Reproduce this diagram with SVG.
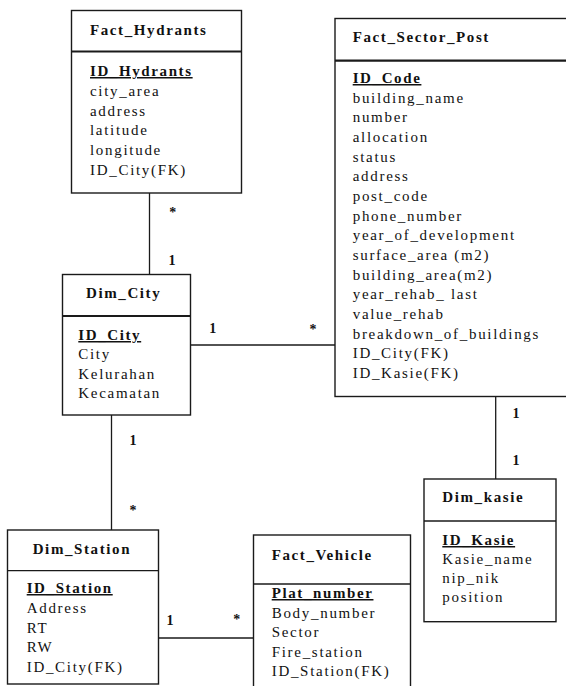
<svg xmlns="http://www.w3.org/2000/svg" width="566" height="686" viewBox="0 0 566 686">
<style>
  .box { fill: #ffffff; stroke: #1a1a1a; stroke-width: 1.4; }
  .div2 { stroke: #1a1a1a; stroke-width: 2.2; }
  .div1 { stroke: #1a1a1a; stroke-width: 1.3; }
  .conn { stroke: #1a1a1a; stroke-width: 1.3; fill: none; }
  .t { font-family: 'Liberation Serif', 'DejaVu Serif', serif; fill: #111111; }
  .title { font-size: 15px; font-weight: bold; letter-spacing: 1.6px; }
  .attr { font-size: 15px; letter-spacing: 1.7px; }
  .key { font-size: 15px; font-weight: bold; letter-spacing: 1.6px; text-decoration: underline; }
  .lbl { font-size: 14px; font-weight: bold; text-anchor: middle; }
</style>
<rect width="566" height="686" fill="#ffffff"/>

<g id="connectors">
  <line class="conn" x1="149.5" y1="193" x2="149.5" y2="274.5"/>
  <line class="conn" x1="190.5" y1="345" x2="335" y2="345"/>
  <line class="conn" x1="111.5" y1="415" x2="111.5" y2="530"/>
  <line class="conn" x1="158.5" y1="638" x2="253.5" y2="638"/>
  <line class="conn" x1="495.7" y1="396.5" x2="495.7" y2="479"/>
  <g class="t">
  <text class="lbl" x="172.7" y="216.6">*</text>
  <text class="lbl" x="172" y="265">1</text>
  <text class="lbl" x="212.7" y="333">1</text>
  <text class="lbl" x="313" y="333.5">*</text>
  <text class="lbl" x="133" y="445">1</text>
  <text class="lbl" x="133" y="514.6">*</text>
  <text class="lbl" x="170" y="625">1</text>
  <text class="lbl" x="236.7" y="623.5">*</text>
  <text class="lbl" x="516" y="418">1</text>
  <text class="lbl" x="516" y="465">1</text>
  </g>
</g>

<g id="Fact_Hydrants">
  <rect class="box" x="71.5" y="10.5" width="170" height="182.5"/>
  <line class="div2" x1="71.5" y1="51.5" x2="241.5" y2="51.5"/>
  <g class="t">
  <text class="title" x="90" y="35">Fact_Hydrants</text>
  <text class="key" x="90" y="76">ID_Hydrants</text>
  <text class="attr" x="90" y="95.8">city_area</text>
  <text class="attr" x="90" y="115.6">address</text>
  <text class="attr" x="90" y="135.4">latitude</text>
  <text class="attr" x="90" y="155.2">longitude</text>
  <text class="attr" x="90" y="175">ID_City(FK)</text>
  </g>
</g>

<g id="Fact_Sector_Post">
  <rect class="box" x="335" y="18.5" width="250" height="378"/>
  <line class="div2" x1="335" y1="60.7" x2="585" y2="60.7"/>
  <g class="t">
  <text class="title" x="352.7" y="41.7">Fact_Sector_Post</text>
  <text class="key" x="352.7" y="83">ID_Code</text>
  <text class="attr" x="352.7" y="102.7">building_name</text>
  <text class="attr" x="352.7" y="122.3">number</text>
  <text class="attr" x="352.7" y="142">allocation</text>
  <text class="attr" x="352.7" y="161.7">status</text>
  <text class="attr" x="352.7" y="181.4">address</text>
  <text class="attr" x="352.7" y="201">post_code</text>
  <text class="attr" x="352.7" y="220.7">phone_number</text>
  <text class="attr" x="352.7" y="240.4">year_of_development</text>
  <text class="attr" x="352.7" y="260">surface_area (m2)</text>
  <text class="attr" x="352.7" y="279.7">building_area(m2)</text>
  <text class="attr" x="352.7" y="299.4">year_rehab_ last</text>
  <text class="attr" x="352.7" y="319">value_rehab</text>
  <text class="attr" x="352.7" y="338.7">breakdown_of_buildings</text>
  <text class="attr" x="352.7" y="358.4">ID_City(FK)</text>
  <text class="attr" x="352.7" y="378">ID_Kasie(FK)</text>
  </g>
</g>

<g id="Dim_City">
  <rect class="box" x="62.5" y="274.5" width="128" height="140.5"/>
  <line class="div2" x1="62.5" y1="316" x2="190.5" y2="316"/>
  <g class="t">
  <text class="title" x="86" y="298">Dim_City</text>
  <text class="key" x="78.3" y="340">ID_City</text>
  <text class="attr" x="78.3" y="359.3">City</text>
  <text class="attr" x="78.3" y="378.6">Kelurahan</text>
  <text class="attr" x="78.3" y="398">Kecamatan</text>
  </g>
</g>

<g id="Dim_Station">
  <rect class="box" x="7.5" y="530" width="151" height="154"/>
  <line class="div1" x1="7.5" y1="570.7" x2="158.5" y2="570.7"/>
  <g class="t">
  <text class="title" x="32.7" y="554">Dim_Station</text>
  <text class="key" x="26.7" y="593">ID_Station</text>
  <text class="attr" x="26.7" y="613">Address</text>
  <text class="attr" x="26.7" y="632.5">RT</text>
  <text class="attr" x="26.7" y="652">RW</text>
  <text class="attr" x="26.7" y="672">ID_City(FK)</text>
  </g>
</g>

<g id="Fact_Vehicle">
  <rect class="box" x="253.5" y="535" width="157" height="170"/>
  <line class="div1" x1="253.5" y1="584" x2="410.5" y2="584"/>
  <g class="t">
  <text class="title" x="271.7" y="560">Fact_Vehicle</text>
  <text class="key" x="271.7" y="598">Plat_number</text>
  <text class="attr" x="271.7" y="617.5">Body_number</text>
  <text class="attr" x="271.7" y="637">Sector</text>
  <text class="attr" x="271.7" y="656.5">Fire_station</text>
  <text class="attr" x="271.7" y="676">ID_Station(FK)</text>
  </g>
</g>

<g id="Dim_kasie">
  <rect class="box" x="424" y="479" width="132" height="142.7"/>
  <line class="div1" x1="424" y1="521" x2="556" y2="521"/>
  <g class="t">
  <text class="title" x="442.3" y="501.7">Dim_kasie</text>
  <text class="key" x="442.3" y="545">ID_Kasie</text>
  <text class="attr" x="442.3" y="564">Kasie_name</text>
  <text class="attr" x="442.3" y="583">nip_nik</text>
  <text class="attr" x="442.3" y="602">position</text>
  </g>
</g>
</svg>
